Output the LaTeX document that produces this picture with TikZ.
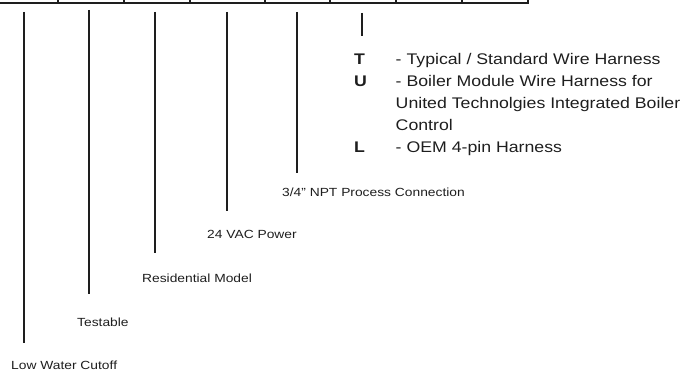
\documentclass[tikz,border=0pt]{standalone}
\usepackage{fontspec}
\setmainfont{Liberation Sans}
\usepackage{graphicx}
\usetikzlibrary{positioning}
\definecolor{ink}{RGB}{30, 30, 30}

\tikzset{
    lead/.style={line width=2.4pt, ink},
    partlabel/.style={anchor=west, inner sep=0pt, text=ink, font=\fontsize{11.8}{14}\selectfont},
    legendtext/.style={anchor=north west, inner sep=0pt, text=ink, font=\fontsize{15.4}{22}\selectfont}
}
\newcommand{\wide}[2]{\scalebox{#1}[1]{#2}}

\begin{document}
\begin{tikzpicture}[x=1pt, y=-1pt]
                \useasboundingbox (0,0) rectangle (685,371);

                % model number boxes (only their lower edge shows)
                \draw[line width=1.8pt, ink] (0,3) -- (528,3);
                \foreach \bx in {58,124,190,265,330,396,462,528}
                    \draw[line width=1.8pt, ink] (\bx,0) -- (\bx,3.9);

                % labels
                \node[partlabel] (lwc) at (11,365) {\wide{1.17}{Low Water Cutoff}};
                \node[partlabel] (tst) at (77,322) {\wide{1.17}{Testable}};
                \node[partlabel] (res) at (142,278) {\wide{1.17}{Residential Model}};
                \node[partlabel] (pwr) at (207,234) {\wide{1.17}{24 VAC Power}};
                \node[partlabel] (npt) at (282,192) {\wide{1.17}{3/4" NPT Process Connection}};
                \node[legendtext] (harness) at (354,49) {\wide{1.15}{%
                    \begin{tabular}{@{}l@{\hspace{25pt}}l@{}}
                        \textbf{T} & - Typical / Standard Wire Harness\\
                        \textbf{U} & - Boiler Module Wire Harness for\\
                                   & United Technolgies Integrated Boiler\\
                                   & Control\\
                        \textbf{L} & - OEM 4-pin Harness
                    \end{tabular}}};

                % leader lines
                \coordinate (lwc top) at (24,12);
                \coordinate (tst top) at (89,10);
                \coordinate (res top) at (155,12);
                \coordinate (pwr top) at (227,12);
                \coordinate (npt top) at (297,12);
                \coordinate (har top) at (362,13);
                \coordinate (lwc end) at (24,343);
                \coordinate (tst end) at (89,294);
                \coordinate (res end) at (155,253);
                \coordinate (pwr end) at (227,211);
                \coordinate (npt end) at (297,173);
                \coordinate (har end) at (362,36);

                \draw[lead] (lwc top) -- (lwc end);
                \draw[lead] (tst top) -- (tst end);
                \draw[lead] (res top) -- (res end);
                \draw[lead] (pwr top) -- (pwr end);
                \draw[lead] (npt top) -- (npt end);
                \draw[line width=1.8pt, ink] (har top) -- (har end);
            \end{tikzpicture}
\end{document}
